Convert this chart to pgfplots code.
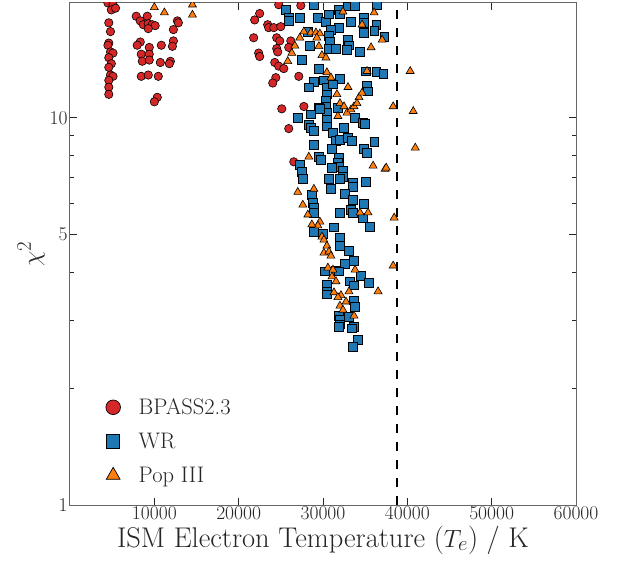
\documentclass[border=0pt]{standalone}
\usepackage{pgfplots}
\usepackage{pgfplotstable}
\pgfplotsset{compat=1.18}
\definecolor{cred}{HTML}{D62728}
\definecolor{cblue}{HTML}{1F77B4}
\definecolor{corange}{HTML}{FF7F0E}

\pgfplotstableread{
T chi
4500 19.8
5100 19.6
4900 19.0
5400 19.2
4600 17.6
4800 16.7
4600 15.6
4500 15.4
4800 14.8
5100 14.7
4600 14.3
4900 13.8
4600 13.5
4800 12.9
5100 12.8
4600 12.5
4600 12.0
4600 11.5
7850 18.3
9160 18.3
8330 17.8
8690 17.4
9280 17.5
9760 17.4
10100 17.3
9280 17.0
12730 17.8
12850 17.6
12260 16.9
8330 15.7
7970 15.4
9400 15.2
10830 15.4
12260 15.8
12140 15.3
8450 14.6
9400 14.6
8570 14.0
9400 14.1
10710 13.9
11900 14.0
11780 13.8
8450 12.8
9280 12.9
10470 12.8
10350 11.3
10000 11.0
22490 18.6
21900 17.9
21780 16.1
22370 14.7
22490 14.4
23440 17.4
23560 17.1
24160 17.1
24990 17.2
24510 16.1
24870 15.8
26180 15.8
24510 15.1
24630 14.8
25940 15.2
24280 13.9
24750 13.6
25350 13.4
27130 12.8
24400 12.7
24040 12.3
25110 10.55
27730 10.7
25940 9.38
26540 7.70
24750 19.6
27370 19.5
}\bpass

\pgfplotstableread{
T chi
25590 19.0
25940 18.2
25940 17.8
27250 18.1
28920 19.6
29390 18.1
30350 17.7
30700 18.5
31890 19.0
32010 18.5
32960 19.4
33800 19.5
33320 17.7
34870 18.1
34870 17.6
36300 17.4
36410 19.6
31890 17.1
30940 16.9
28200 16.7
34870 16.6
36060 16.8
37250 16.2
30700 16.3
30820 15.7
32960 15.9
33080 15.4
28440 15.35
30700 15.1
31540 15.1
32840 15.0
34390 14.8
27490 14.1
29510 13.4
35110 13.2
36300 13.15
37130 13.0
28920 12.4
30110 12.5
32010 12.6
30460 12.0
30460 11.5
30350 11.1
30350 10.7
30460 10.3
30460 9.9
30460 9.5
31180 12.2
28320 12.0
35220 12.1
35340 11.7
31770 10.6
29510 10.6
28560 10.2
27010 10.0
33800 10.0
34750 9.7
34990 9.66
32490 9.43
28320 9.6
28560 9.43
29630 10.55
31180 9.15
28920 9.26
31540 8.72
32010 8.78
32960 8.88
33440 8.72
36060 8.67
28920 8.52
31060 8.32
34870 8.32
35220 8.12
29510 7.93
29750 7.79
31890 7.88
31770 7.65
31890 7.47
31060 7.43
32370 7.30
32370 7.04
27250 7.56
27490 7.25
27610 6.95
30700 6.95
32010 6.95
33560 6.79
33560 6.63
35110 6.83
30940 6.55
32610 6.36
33560 6.14
28680 6.32
28800 6.03
28920 5.86
28920 5.69
34870 6.00
32010 5.69
33320 5.79
33560 5.69
34750 5.52
31300 5.21
35580 5.24
28920 5.08
29990 5.02
32010 4.90
32010 4.67
33080 4.53
33680 4.27
32610 4.20
30230 4.01
31540 4.03
31890 4.01
34510 3.91
33200 3.78
33680 3.69
35460 3.75
30460 3.71
30460 3.56
30460 3.50
33680 3.38
33800 3.25
31890 3.08
32010 3.01
32010 2.93
31890 2.89
33080 3.06
33680 2.89
33440 2.86
34150 2.67
33560 2.56
}\wr

\pgfplotstableread{
T chi
10000 19.3
11190 18.7
14520 19.6
14520 18.45
27730 16.7
28560 16.6
29160 16.6
29630 16.5
29270 16.1
27250 16.1
26660 15.35
26300 14.7
25820 14.0
29510 15.3
29870 14.5
30350 14.3
32370 18.8
36060 18.7
34630 17.4
37010 15.9
35700 15.2
35220 13.2
40340 13.2
30460 13.1
30940 12.7
32960 12.0
31650 11.5
34270 11.3
34630 11.6
32010 10.9
32490 10.7
32840 10.3
33320 10.5
33680 10.7
34030 10.9
31770 10.1
38320 10.7
40700 10.4
40940 8.37
28320 7.93
35940 7.52
37370 7.38
37490 7.43
27010 6.43
28920 6.55
27610 5.96
28200 5.62
29630 5.39
29390 5.27
28680 5.30
34390 5.69
35340 5.69
38440 5.52
29870 4.93
30110 4.84
30460 4.67
30110 4.48
30700 4.51
30940 4.40
30580 4.10
31180 4.05
33800 4.05
31060 3.89
31540 3.78
33080 3.56
36530 3.56
38320 4.15
31300 3.54
32130 3.48
31770 3.44
32730 3.35
32010 3.27
32370 3.19
33680 3.08
}\popiii

\begin{document}
\begin{tikzpicture}
\begin{axis}[
  name=ax,
  scale only axis,
  width=506pt, height=502pt,
  xmin=0, xmax=60000,
  ymode=log, ymin=1, ymax=19.8,
  xtick={10000,20000,30000,40000,50000,60000},
  xticklabels={10000,20000,30000,40000,50000,60000},
  scaled x ticks=false,
  ytick={1,5,10},
  yticklabels={1,5,10},
  minor ytick={2,3,4,6,7,8,9},
  tick align=inside,
  major tick length=7pt,
  minor tick length=4pt,
  tick style={black!85, line width=0.8pt},
  axis line style={black!60, line width=1pt},
  ticklabel style={font=\fontsize{19.5}{22}\selectfont, text=black!85},
  xticklabel style={yshift=2pt},
  yticklabel style={xshift=1pt},
  xlabel={ISM Electron Temperature ($T_e$) / K},
  ylabel={$\chi^2$},
  xlabel style={font=\fontsize{28.5}{32}\selectfont, text=black!85, yshift=1pt},
  ylabel style={font=\fontsize{28.5}{32}\selectfont, text=black!85, yshift=-2pt},
  clip marker paths=true,
  legend style={at={(0.0573,0.034)}, anchor=south west, draw=none, fill=none,
    font=\fontsize{22.5}{26}\selectfont, text=black!85, row sep=13pt,
    legend cell align=left, inner xsep=0pt},
]
\addplot[only marks, mark=*, mark size=4.2pt, mark options={fill=cred, draw=black, line width=0.6pt},
  legend image code/.code={\path[draw=none, fill=none] (0pt,-1pt) rectangle (37.5pt,1pt); \draw[mark=*, mark size=7.3pt, mark options={fill=cred, draw=black, line width=0.7pt}] plot coordinates {(14pt,0pt)};}] table[x=T, y=chi] {\bpass};
\addlegendentry{BPASS2.3}
\addplot[only marks, mark=square*, mark size=4.3pt, mark options={fill=cblue, draw=black, line width=0.6pt},
  legend image code/.code={\path[draw=none, fill=none] (0pt,-1pt) rectangle (37.5pt,1pt); \draw[mark=square*, mark size=6.6pt, mark options={fill=cblue, draw=black, line width=0.7pt}] plot coordinates {(14pt,0pt)};}] table[x=T, y=chi] {\wr};
\addlegendentry{WR}
\addplot[only marks, mark=triangle*, mark size=4.6pt, mark options={fill=corange, draw=black, line width=0.6pt},
  legend image code/.code={\path[draw=none, fill=none] (0pt,-1pt) rectangle (37.5pt,1pt); \draw[mark=triangle*, mark size=8pt, mark options={fill=corange, draw=black, line width=0.7pt}] plot coordinates {(14pt,0pt)};}] table[x=T, y=chi] {\popiii};
\addlegendentry{Pop III}
\addplot[black, line width=1.8pt, dash pattern=on 9pt off 9pt, forget plot] coordinates {(38800,1) (38800,19.8)};
\end{axis}
\pgfresetboundingbox
\path[use as bounding box] ([shift={(-70pt,-56pt)}]ax.south west) rectangle ([shift={(43pt,3pt)}]ax.north east);
\end{tikzpicture}
\end{document}
